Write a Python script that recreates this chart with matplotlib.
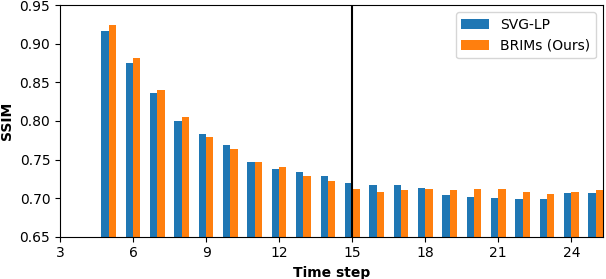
import matplotlib.pyplot as plt
import numpy as np

# SSIM per time step
time_steps = np.arange(5, 26)
svg_lp = [0.917, 0.875, 0.836, 0.800, 0.783, 0.769, 0.747, 0.738, 0.734, 0.729,
          0.720, 0.717, 0.717, 0.713, 0.704, 0.701, 0.700, 0.699, 0.699, 0.707, 0.707]
brims = [0.925, 0.882, 0.840, 0.805, 0.779, 0.764, 0.747, 0.740, 0.729, 0.722,
         0.712, 0.708, 0.710, 0.712, 0.710, 0.712, 0.712, 0.708, 0.705, 0.708, 0.710]
x_ticks = [3, 6, 9, 12, 15, 18, 21, 24]

fig = plt.figure(figsize=(6.06, 2.79), dpi=100)
ax = fig.add_axes([60 / 606, 1 - 236.7 / 279, 543 / 606, 231.4 / 279])

width = 0.3
ax.bar(time_steps - width / 2, svg_lp, width, color='#1f77b4', label='SVG-LP')
ax.bar(time_steps + width / 2, brims, width, color='#ff7f0e', label='BRIMs (Ours)')

# split marker
ax.axvline(15, color='black', lw=1.5)

ax.set_ylim(0.65, 0.95)
ax.set_xlim(3, 25.3)
ax.set_xticks(x_ticks)
ax.set_yticks(np.arange(0.65, 0.951, 0.05))
ax.set_xlabel('Time step', fontweight='bold')
ax.set_ylabel('SSIM', fontweight='bold')
ax.legend(loc='upper right')

fig.savefig('out.png', dpi=100)
